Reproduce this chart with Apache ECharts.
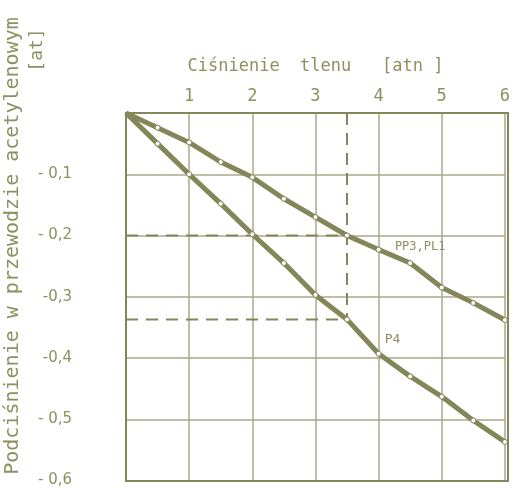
<!DOCTYPE html>
<html>
<head>
<meta charset="utf-8">
<script src="https://cdn.jsdelivr.net/npm/echarts@6/dist/echarts.min.js"></script>
<style>
html,body{margin:0;padding:0;background:#fff;}
#chart{width:513px;height:488px;}
</style>
</head>
<body>
<div id="chart"></div>
<script>
// Data
var xValues = [0, 0.5, 1, 1.5, 2, 2.5, 3, 3.5, 4, 4.5, 5, 5.5, 6];
var seriesPP3PL1 = [0, -0.024, -0.048, -0.08, -0.105, -0.14, -0.17, -0.2, -0.223, -0.245, -0.285, -0.31, -0.338];
var seriesP4 = [0, -0.05, -0.1, -0.148, -0.198, -0.245, -0.297, -0.337, -0.393, -0.43, -0.463, -0.502, -0.537];
var xTickLabels = ['', '1', '2', '3', '4', '5', '6'];
var yTickLabels = ['- 0,6', '- 0,5', '-0,4', '-0,3', '- 0,2', '- 0,1', ''];
var guideX = 3.5;
var guideY1 = -0.2;
var guideY2 = -0.337;

var olive = '#85855a';
var textCol = '#8f8f60';
var gridCol = '#a9a98a';
var font = '"DejaVu Sans Mono", monospace';

function pairs(xs, ys) { return xs.map(function (x, i) { return [x, ys[i]]; }); }

var upperData = pairs(xValues, seriesPP3PL1).map(function (p, i) {
  var d = { value: p };
  if (i === 0) d.symbolSize = 0;
  if (p[0] === 4.5) d.label = { show: true, formatter: 'PP3,PL1', position: 'top', offset: [10, -2], color: textCol, fontFamily: font, fontSize: 12 };
  return d;
});
var lowerData = pairs(xValues, seriesP4).map(function (p, i) {
  var d = { value: p };
  if (i === 0) d.symbolSize = 0;
  if (p[0] === 4) d.label = { show: true, formatter: 'P4', position: 'top', offset: [14, 0], color: textCol, fontFamily: font, fontSize: 13 };
  return d;
});

var chart = echarts.init(document.getElementById('chart'), null, { renderer: 'canvas' });
chart.setOption({
  backgroundColor: '#ffffff',
  animation: false,
  grid: { left: 126, top: 113, right: 5, bottom: 7 },
  xAxis: {
    type: 'value', position: 'top', min: 0, max: 6, interval: 1,
    name: 'Ciśnienie  tlenu   [atn ]', nameLocation: 'middle', nameGap: 38,
    nameTextStyle: { color: textCol, fontFamily: font, fontSize: 17 },
    axisLine: { show: true, lineStyle: { color: olive, width: 2 } },
    axisTick: { show: false },
    axisLabel: { margin: 8, color: textCol, fontFamily: font, fontSize: 17,
      formatter: function (v) { return xTickLabels[Math.round(v)] || ''; } },
    splitLine: { show: true, lineStyle: { color: gridCol, width: 1.5 } }
  },
  yAxis: {
    type: 'value', min: -0.6, max: 0, interval: 0.1,
    axisLine: { show: true, lineStyle: { color: olive, width: 2 } },
    axisTick: { show: false },
    axisLabel: { margin: 54, color: textCol, fontFamily: '"DejaVu Sans", sans-serif', fontSize: 15,
      formatter: function (v) { return yTickLabels[Math.round((v + 0.6) * 10)] || ''; } },
    splitLine: { show: true, lineStyle: { color: gridCol, width: 1.5 } }
  },
  graphic: [
    { type: 'rect', shape: { x: 126, y: 113, width: 382, height: 368 }, style: { fill: 'none', stroke: olive, lineWidth: 2 }, silent: true, z: 10 },
    { type: 'text', x: 13, y: 246, rotation: Math.PI / 2,
      style: { text: 'Podciśnienie w przewodzie acetylenowym', fill: textCol, font: '20px "DejaVu Sans Mono", monospace', textAlign: 'center', textVerticalAlign: 'middle' } },
    { type: 'text', x: 37, y: 50, rotation: Math.PI / 2,
      style: { text: '[at]', fill: textCol, font: '18px "DejaVu Sans Mono", monospace', textAlign: 'center', textVerticalAlign: 'middle' } }
  ],
  series: [
    { type: 'line', data: upperData, lineStyle: { color: olive, width: 5 }, itemStyle: { color: '#ffffff', borderColor: olive, borderWidth: 1 }, symbol: 'circle', symbolSize: 5, showAllSymbol: true, z: 5 },
    { type: 'line', data: lowerData, lineStyle: { color: olive, width: 5 }, itemStyle: { color: '#ffffff', borderColor: olive, borderWidth: 1 }, symbol: 'circle', symbolSize: 5, showAllSymbol: true, z: 5 },
    { type: 'line', data: [[guideX, 0], [guideX, guideY2]], symbol: 'none', lineStyle: { color: olive, width: 2, type: [12, 8] }, z: 4 },
    { type: 'line', data: [[0, guideY1], [guideX, guideY1]], symbol: 'none', lineStyle: { color: olive, width: 2, type: [12, 8] }, z: 4 },
    { type: 'line', data: [[0, guideY2], [guideX, guideY2]], symbol: 'none', lineStyle: { color: olive, width: 2, type: [12, 8] }, z: 4 }
  ]
});
</script>
</body>
</html>
